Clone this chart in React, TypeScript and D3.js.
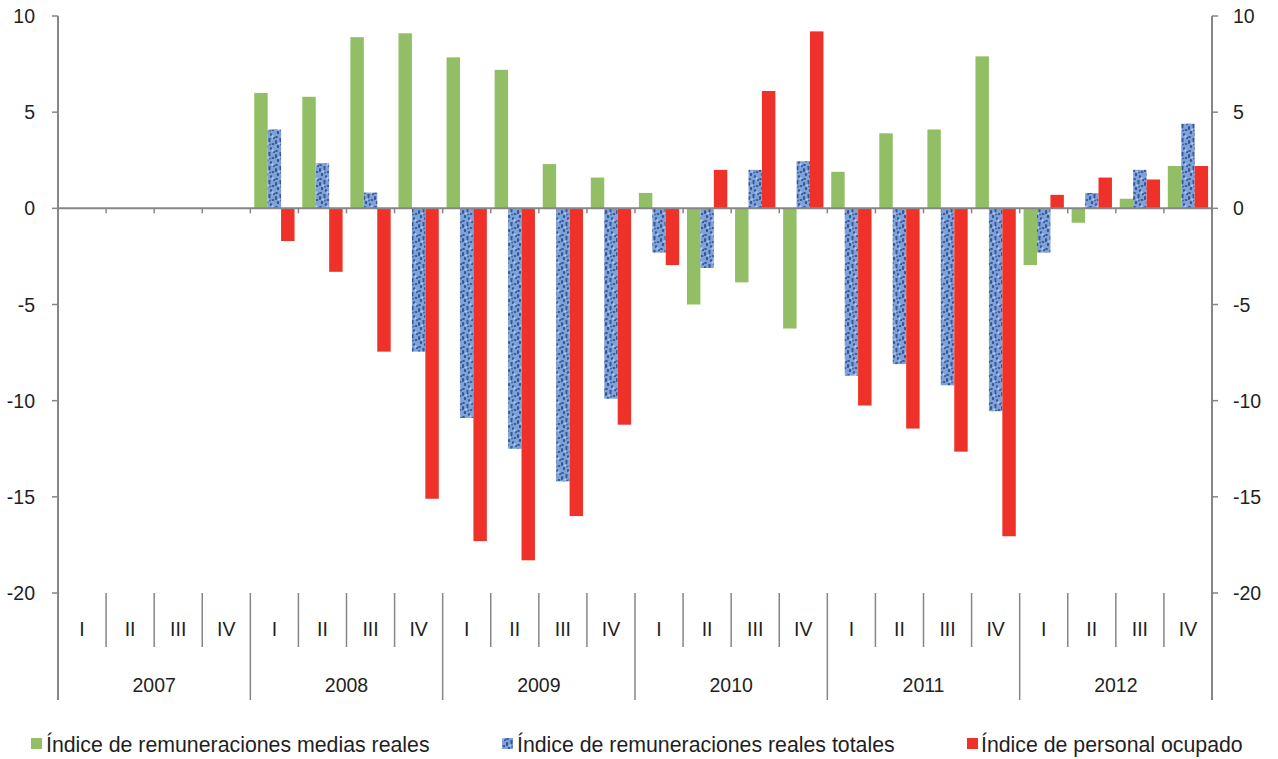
import React from "react";
import * as d3 from "d3";

const years = ["2007", "2008", "2009", "2010", "2011", "2012"];
const quarters = ["I", "II", "III", "IV"];

const mediasReales: (number | null)[] = [
  null, null, null, null,
  6.0, 5.8, 8.9, 9.1,
  7.85, 7.2, 2.3, 1.6,
  0.8, -5.0, -3.85, -6.25,
  1.9, 3.9, 4.1, 7.9,
  -2.95, -0.75, 0.5, 2.2,
];
const realesTotales: (number | null)[] = [
  null, null, null, null,
  4.1, 2.35, 0.82, -7.45,
  -10.9, -12.5, -14.2, -9.9,
  -2.3, -3.1, 2.0, 2.45,
  -8.7, -8.1, -9.2, -10.55,
  -2.3, 0.8, 2.0, 4.4,
];
const personalOcupado: (number | null)[] = [
  null, null, null, null,
  -1.7, -3.3, -7.45, -15.1,
  -17.3, -18.3, -16.0, -11.25,
  -2.95, 2.0, 6.1, 9.2,
  -10.25, -11.45, -12.65, -17.05,
  0.7, 1.6, 1.5, 2.2,
];
const yTicks = [10, 5, 0, -5, -10, -15, -20];

const seriesNames = [
  "Índice de remuneraciones medias reales",
  "Índice de remuneraciones reales totales",
  "Índice de personal ocupado",
];

const W = 1278;
const H = 759;
const left = 58;
const right = 1212;
const top = 16;
const plotBottom = 593;
const catMid = 647;
const catBottom = 700;
const axisColor = "#868686";
const textColor = "#1f1f1f";
const font = "'Liberation Sans', Arial, sans-serif";

const GREEN = "#92BF66";
const RED = "#EE3129";

export default function App() {
  const cats: string[] = [];
  years.forEach((y) => quarters.forEach((q) => cats.push(`${y}-${q}`)));

  const x = d3.scaleBand<string>().domain(cats).range([left, right]).padding(0);
  const y = d3.scaleLinear().domain([-20, 10]).range([plotBottom, top]);
  const inner = d3
    .scaleBand<number>()
    .domain([0, 1, 2])
    .range([0, x.bandwidth()])
    .paddingInner(0)
    .paddingOuter(0.29);

  const series = [
    { data: mediasReales, fill: GREEN },
    { data: realesTotales, fill: "url(#bluetex)" },
    { data: personalOcupado, fill: RED },
  ];

  const y0 = y(0);
  const step = x.step();

  const bars: React.ReactNode[] = [];
  series.forEach((s, si) => {
    s.data.forEach((v, i) => {
      if (v === null) return;
      const bx = (x(cats[i]) as number) + (inner(si) as number);
      const yv = y(v);
      bars.push(
        <rect
          key={`b${si}-${i}`}
          x={bx}
          y={Math.min(yv, y0)}
          width={inner.bandwidth()}
          height={Math.abs(yv - y0)}
          fill={s.fill}
        />
      );
    });
  });

  // blobs for blue texture
  const blobs = [
    [1, 2, 1.3, 2.0], [5.5, 1, 1.0, 1.4], [9, 4, 1.4, 1.1], [3, 6.5, 1.2, 1.7],
    [7, 8.5, 1.1, 1.6], [1.5, 11, 1.5, 1.1], [10, 12, 1.0, 1.3], [5.5, 13, 1.3, 1.0],
    [6, 4.5, 0.8, 0.9],
  ];

  return (
    <svg
      width={W}
      height={H}
      style={{ position: "absolute", left: 0, top: 0, background: "#fff" }}
      fontFamily={font}
    >
      <defs>
        <pattern id="bluetex" patternUnits="userSpaceOnUse" width={11} height={14}>
          <rect width={11} height={14} fill="#7FA2DA" />
          {blobs.map((b, i) => (
            <ellipse key={i} cx={b[0]} cy={b[1]} rx={b[2]} ry={b[3]} fill="#2D4E8A" opacity={0.9} />
          ))}
          <ellipse cx={4} cy={3.5} rx={1.5} ry={1} fill="#A9C4EE" />
          <ellipse cx={8.5} cy={10.5} rx={1.2} ry={1.4} fill="#A9C4EE" />
        </pattern>
      </defs>
      <rect width={W} height={H} fill="#fff" />

      {bars}

      {/* zero line */}
      <line x1={left} x2={right} y1={y0} y2={y0} stroke={axisColor} strokeWidth={2} />
      {cats.map((c, i) =>
        i === 0 ? null : (
          <line
            key={`zt${i}`}
            x1={left + i * step}
            x2={left + i * step}
            y1={y0}
            y2={y0 + 5}
            stroke={axisColor}
            strokeWidth={1.5}
          />
        )
      )}

      {/* left axis */}
      <line x1={left} x2={left} y1={top} y2={catBottom} stroke={axisColor} strokeWidth={2} />
      {yTicks.map((t) => (
        <g key={`l${t}`}>
          <line x1={left - 6} x2={left} y1={y(t)} y2={y(t)} stroke={axisColor} strokeWidth={1.5} />
          <text
            x={35}
            y={y(t)}
            textAnchor="end"
            dominantBaseline="central"
            fontSize={19.5}
            fill={textColor}
          >
            {t}
          </text>
        </g>
      ))}

      {/* right axis */}
      <line x1={right} x2={right} y1={top} y2={catBottom} stroke={axisColor} strokeWidth={2} />
      {yTicks.map((t) => (
        <g key={`r${t}`}>
          <line x1={right} x2={right + 6} y1={y(t)} y2={y(t)} stroke={axisColor} strokeWidth={1.5} />
          <text
            x={1233}
            y={y(t)}
            textAnchor="start"
            dominantBaseline="central"
            fontSize={19.5}
            fill={textColor}
          >
            {t}
          </text>
        </g>
      ))}

      {/* category axis */}
      {cats.map((c, i) => {
        const xs = left + i * step;
        const isYear = i % 4 === 0;
        return (
          <g key={`c${i}`}>
            {i > 0 && (
              <line
                x1={xs}
                x2={xs}
                y1={plotBottom}
                y2={isYear ? catBottom : catMid}
                stroke={axisColor}
                strokeWidth={1.5}
              />
            )}
            <text
              x={(x(c) as number) + x.bandwidth() / 2}
              y={629}
              textAnchor="middle"
              dominantBaseline="central"
              fontSize={19.5}
              fill={textColor}
            >
              {quarters[i % 4]}
            </text>
          </g>
        );
      })}
      {years.map((yr, i) => (
        <text
          key={yr}
          x={left + (i * 4 + 2) * step}
          y={685}
          textAnchor="middle"
          dominantBaseline="central"
          fontSize={19.5}
          fill={textColor}
        >
          {yr}
        </text>
      ))}

      {/* legend */}
      <g fontSize={21.3} fill={textColor}>
        <rect x={31} y={738} width={11} height={11} fill={GREEN} />
        <text x={46} y={745} dominantBaseline="central">{seriesNames[0]}</text>
        <rect x={502} y={738} width={11} height={11} fill="url(#bluetex)" />
        <text x={517} y={745} dominantBaseline="central">{seriesNames[1]}</text>
        <rect x={967} y={738} width={11} height={11} fill={RED} />
        <text x={981} y={745} dominantBaseline="central">{seriesNames[2]}</text>
      </g>
    </svg>
  );
}
